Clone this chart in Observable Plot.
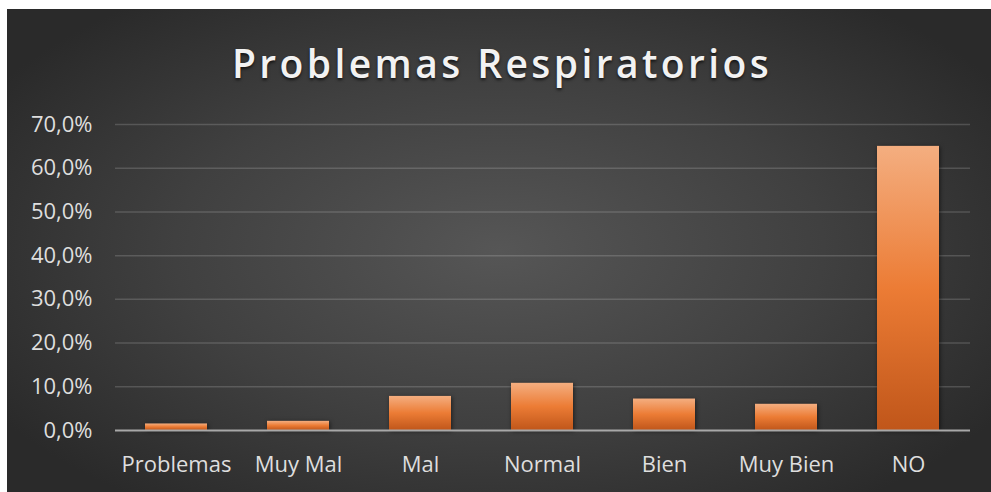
<!DOCTYPE html>
<html>
<head>
<meta charset="utf-8">
<script src="https://cdn.jsdelivr.net/npm/d3@7"></script>
<script src="https://cdn.jsdelivr.net/npm/@observablehq/plot@0.6"></script>
<style>
  html, body { margin: 0; padding: 0; background: #ffffff; width: 991px; height: 492px; overflow: hidden; }
  #frame {
    position: absolute; left: 7px; top: 9px; width: 984px; height: 483px;
    background: radial-gradient(ellipse 60% 65% at 50% 50%, #565656 0%, #404040 55%, #2a2a2a 100%);
    overflow: hidden;
  }
  #title {
    position: absolute; left: 0; top: 27px; width: 990px; text-align: center;
    font-family: "Open Sans", sans-serif; font-weight: 600; font-size: 39px;
    letter-spacing: 3.4px; color: #f2f2f2; line-height: normal;
    text-shadow: 0 2px 3px rgba(0,0,0,0.65);
  }
  #chart { position: absolute; left: 0; top: 91px; }
  g[aria-label="bar"] { filter: drop-shadow(1px 1px 2px rgba(0,0,0,0.55)); }
</style>
</head>
<body>
<div id="frame">
  <div id="title">Problemas Respiratorios</div>
  <div id="chart"></div>
</div>
<script>
const categories = ["Problemas", "Muy Mal", "Mal", "Normal", "Bien", "Muy Bien", "NO"];
const values = [1.5, 2.1, 7.8, 10.8, 7.2, 6.0, 65.0];
const yTicks = [0, 10, 20, 30, 40, 50, 60, 70];

const data = categories.map((c, i) => ({category: c, value: values[i]}));
const fmt = d => d.toFixed(1).replace(".", ",") + "%";

const gradientDefs = () => {
  const defs = d3.create("svg:defs");
  const g = defs.append("linearGradient")
    .attr("id", "barGrad").attr("x1", 0).attr("y1", 0).attr("x2", 0).attr("y2", 1);
  g.append("stop").attr("offset", "0%").attr("stop-color", "#f4ae80");
  g.append("stop").attr("offset", "50%").attr("stop-color", "#ec7c35");
  g.append("stop").attr("offset", "100%").attr("stop-color", "#c0561a");
  return defs.node();
};

const chart = Plot.plot({
  width: 984,
  height: 392,
  marginLeft: 108,
  marginRight: 21,
  marginTop: 24,
  marginBottom: 62,
  style: {fontFamily: "'Open Sans', sans-serif", fontSize: "22px", color: "#dedede", background: "transparent"},
  x: {domain: categories, paddingInner: 0.49, paddingOuter: 0.245, label: null},
  y: {domain: [0, 70], label: null},
  marks: [
    gradientDefs,
    Plot.gridY(yTicks.filter(d => d > 0), {stroke: "#ffffff", strokeOpacity: 0.16, strokeWidth: 1.5}),
    Plot.barY(data, {x: "category", y: "value", fill: "url(#barGrad)"}),
    Plot.ruleY([0], {stroke: "#a8a8a8", strokeWidth: 2}),
    Plot.axisY({ticks: yTicks, tickFormat: fmt, tickSize: 0, tickPadding: 23, label: null}),
    Plot.axisX({tickSize: 0, tickPadding: 26, label: null})
  ]
});
document.getElementById("chart").appendChild(chart);
</script>
</body>
</html>
